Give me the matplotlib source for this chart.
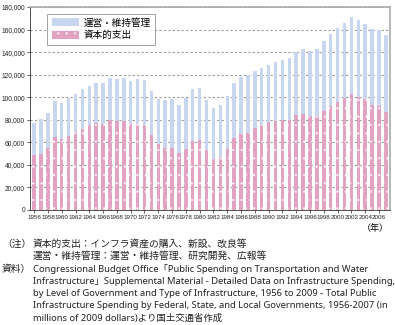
import numpy as np
import matplotlib
matplotlib.use('Agg')
import matplotlib.pyplot as plt
from matplotlib.patches import Patch

plt.rcParams['font.family'] = ['Noto Sans CJK JP', 'DejaVu Sans']
plt.rcParams['hatch.color'] = 'white'
plt.rcParams['hatch.linewidth'] = 0.3

years = list(range(1956, 2008))
total = [76700, 80900, 86200, 96500, 95300, 99700, 102700, 107700, 110100, 113000,
         112700, 116800, 116300, 117200, 114800, 116500, 115700, 105900, 98200, 97300,
         98000, 93500, 99300, 107400, 108300, 97700, 90600, 93500, 101200, 112700,
         118000, 119800, 123400, 126000, 128300, 131600, 133400, 135100, 140400, 142500,
         141300, 143100, 149600, 155800, 161400, 165500, 171400, 168800, 164900, 160200,
         159300, 154900]
capital = [48500, 50000, 55000, 64500, 62800, 65500, 68800, 72000, 75000, 77000,
           76500, 79700, 78500, 78500, 76300, 76500, 75000, 66100, 58100, 54600,
           55200, 50400, 53700, 61000, 62300, 52800, 45500, 46900, 54000, 63500,
           67600, 68500, 72900, 75200, 77800, 78500, 79400, 80000, 83800, 84700,
           83200, 83500, 88200, 92600, 95900, 99100, 103000, 100500, 98600, 93500,
           91900, 87300]
om = [t - c for t, c in zip(total, capital)]

c_om = '#c8d6ef'
c_cap = '#e2a2c1'

fig = plt.figure(figsize=(3.95, 3.25), dpi=100)
ax = fig.add_axes([30/395, 1-210/325, 360/395, 203/325])

x = np.arange(len(years))
ax.bar(x, capital, width=0.5, facecolor=c_cap, edgecolor='white', linewidth=0,
       hatch='..', zorder=2)
ax.bar(x, om, bottom=capital, width=0.5, color=c_om, edgecolor='none', zorder=2)

tick_font = 'Liberation Sans'
ax.set_xlim(-0.6, len(years) - 0.4)
ax.set_ylim(0, 180000)
ax.set_yticks(range(0, 180001, 20000))
ax.set_yticklabels([f'{v:,}' for v in range(0, 180001, 20000)],
                   fontsize=4.8, family=tick_font)
ax.set_xticks(x[::2])
ax.set_xticklabels([str(y) for y in years[::2]], fontsize=4.5, family=tick_font)
ax.tick_params(axis='both', length=2, width=0.5, pad=1.5, colors='#222222')
ax.yaxis.grid(True, color='#999999', linestyle=(0, (2, 2)), linewidth=0.8, zorder=0)
ax.set_axisbelow(True)
for s in ['top', 'right']:
    ax.spines[s].set_color('#aaaaaa')
    ax.spines[s].set_linewidth(1.2)
for s in ['left', 'bottom']:
    ax.spines[s].set_color('#333333')
    ax.spines[s].set_linewidth(0.6)

handles = [Patch(facecolor=c_om, edgecolor='none'),
           Patch(facecolor=c_cap, edgecolor='white', linewidth=0, hatch='..')]
leg = ax.legend(handles, ['運営・維持管理', '資本的支出'], loc='upper left',
                bbox_to_anchor=(0.035, 0.99), fontsize=6.9, frameon=True,
                fancybox=False, edgecolor='#888888', handlelength=2.8,
                handleheight=0.9, labelspacing=0.3, borderpad=0.45,
                handletextpad=0.5)
leg.get_frame().set_linewidth(0.7)

fig.text(389/395, 1-229/325, '（年）', fontsize=6.5, ha='right', va='center')

jp_lines = [
    (2, 244, '（注）'),
    (33, 244, '資本的支出：インフラ資産の購入、新設、改良等'),
    (33, 256, '運営・維持管理：運営・維持管理、研究開発、広報等'),
    (2, 269, '資料）'),
]
en_lines = [
    (33, 269, 'Congressional Budget Office「Public Spending on Transportation and Water'),
    (33, 281, 'Infrastructure」Supplemental Material - Detailed Data on Infrastructure Spending,'),
    (33, 294, 'by Level of Government and Type of Infrastructure, 1956 to 2009 - Total Public'),
    (33, 306, 'Infrastructure Spending by Federal, State, and Local Governments, 1956-2007 (in'),
    (33, 318, 'millions of 2009 dollars)より国土交通省作成'),
]
for px, py, t in jp_lines:
    fig.text(px/395, 1-py/325, t, fontsize=7.0, ha='left', va='center', color='#222222')
for px, py, t in en_lines:
    fig.text(px/395, 1-py/325, t, fontsize=6.75, ha='left', va='center', color='#222222',
             family=['Noto Sans', 'Noto Sans CJK JP'])

fig.savefig('out.png', dpi=100)
